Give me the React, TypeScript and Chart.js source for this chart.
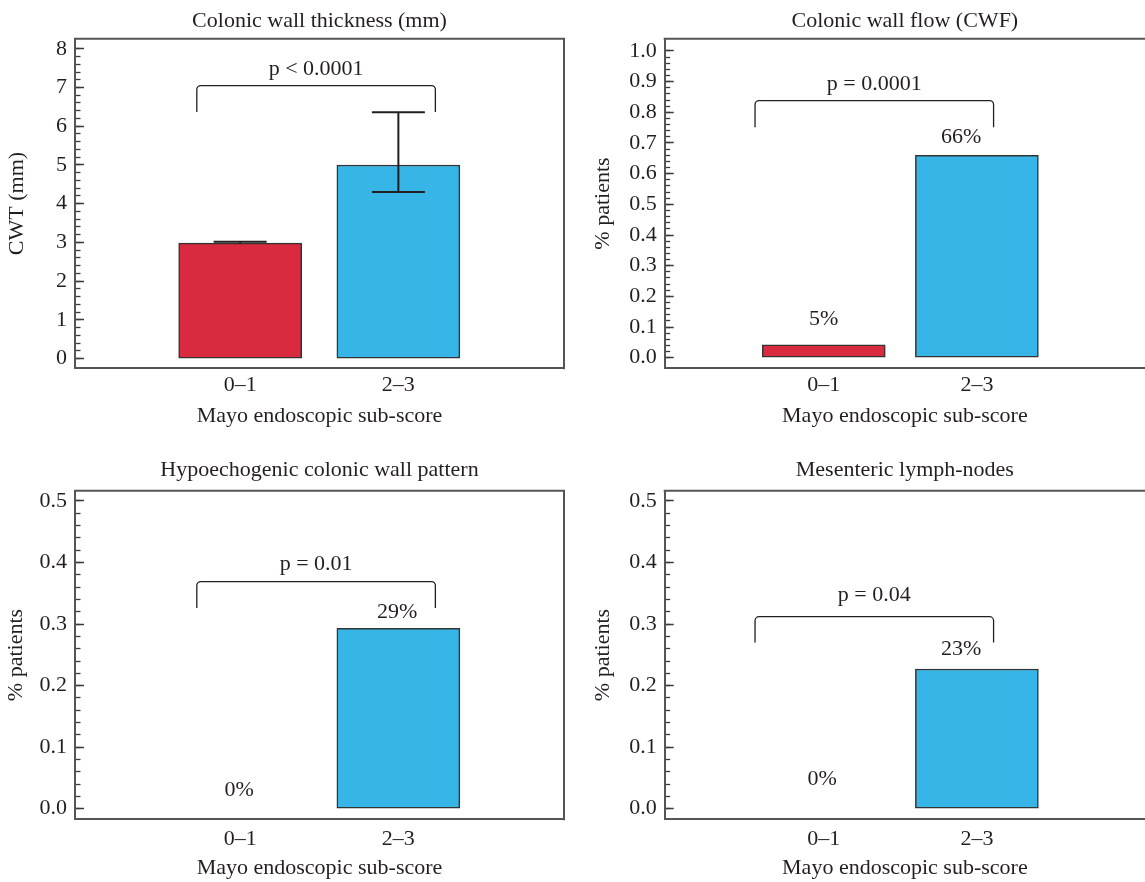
import React, { useEffect, useRef } from 'react';
import { Chart, registerables } from 'chart.js';

Chart.register(...registerables);

// ---------------- data ----------------
const categories = ['0\u20131', '2\u20133'];

const chartTitles = [
  'Colonic wall thickness (mm)',
  'Colonic wall flow (CWF)',
  'Hypoechogenic colonic wall pattern',
  'Mesenteric lymph-nodes',
];
const yAxisTitles = ['CWT (mm)', '% patients', '% patients', '% patients'];
const xAxisTitle = 'Mayo endoscopic sub-score';
const pValueTexts = ['p < 0.0001', 'p = 0.0001', 'p = 0.01', 'p = 0.04'];

// Colonic wall thickness (mean with error bars)
const cwtValues = [2.98, 5.0];
const cwtErrLow = [2.98, 4.3];
const cwtErrHigh = [3.02, 6.36];
const cwtTicks = [0, 1, 2, 3, 4, 5, 6, 7, 8];
const cwtTickLabels = ['0', '1', '2', '3', '4', '5', '6', '7', '8'];

// Colonic wall flow
const cwfValues = [0.042, 0.66];
const cwfValueLabels = ['5%', '66%'];
const cwfTicks = [0, 0.1, 0.2, 0.3, 0.4, 0.5, 0.6, 0.7, 0.8, 0.9, 1.0];
const cwfTickLabels = ['0.0', '0.1', '0.2', '0.3', '0.4', '0.5', '0.6', '0.7', '0.8', '0.9', '1.0'];

// Hypoechogenic pattern
const hypoValues = [0, 0.293];
const hypoValueLabels = ['0%', '29%'];

// Mesenteric lymph-nodes
const lymphValues = [0, 0.227];
const lymphValueLabels = ['0%', '23%'];

const halfTicks = [0, 0.1, 0.2, 0.3, 0.4, 0.5];
const halfTickLabels = ['0.0', '0.1', '0.2', '0.3', '0.4', '0.5'];

// ---------------- styles ----------------
const FONT = "'Liberation Serif', 'Times New Roman', serif";
const FS = 22;
const INK = '#231f20';
const FRAME = '#555555';
const TICK = '#3a3a3a';
const RED = '#da2a40';
const BLUE = '#38b5e7';
const BAR_BORDER = '#333333';

type LabelPos = { x: number; y: number };
type Panel = {
  id: string;
  left: number;
  top: number;
  width: number;
  height: number;
  title: string;
  yTitle: string;
  values: number[];
  errLow?: number[];
  errHigh?: number[];
  valueLabels?: string[];
  labelPos?: LabelPos[];
  ticks: number[];
  tickLabels: string[];
  minorStep: number;
  yMin: number;
  yMax: number;
  xMin: number;
  xMax: number;
  padRight: number;
  rightBorder: boolean;
  yAxisWidth: number;
  xAxisHeight: number;
  titlePad: { top: number; bottom: number };
  yTitlePad: number;
  xTickPad: number;
  xTitlePad: number;
  bracket: { x0: number; x1: number; yTop: number; yBottom: number };
  pGap: number;
  pText: string;
};

const panels: Panel[] = [
  {
    id: 'cwt', left: 0, top: 0, width: 572, height: 440,
    title: chartTitles[0], yTitle: yAxisTitles[0],
    values: cwtValues, errLow: cwtErrLow, errHigh: cwtErrHigh,
    ticks: cwtTicks, tickLabels: cwtTickLabels, minorStep: 0.2,
    yMin: -0.25, yMax: 8.26, xMin: -1.044, xMax: 2.047,
    padRight: 8, rightBorder: true, yAxisWidth: 75, xAxisHeight: 71.7,
    titlePad: { top: 8.5, bottom: 3.8 }, yTitlePad: 3.6, xTickPad: 3.5, xTitlePad: 10.1,
    bracket: { x0: -0.274, x1: 1.234, yTop: 7.05, yBottom: 6.37 }, pGap: 16.4, pText: pValueTexts[0],
  },
  {
    id: 'cwf', left: 580, top: 0, width: 565, height: 440,
    title: chartTitles[1], yTitle: yAxisTitles[1],
    values: cwfValues, valueLabels: cwfValueLabels,
    labelPos: [{ x: 0, y: 0.125 }, { x: 0.898, y: 0.72 }],
    ticks: cwfTicks, tickLabels: cwfTickLabels, minorStep: 0.02,
    yMin: -0.0346, yMax: 1.04, xMin: -1.039, xMax: 2.098,
    padRight: 0, rightBorder: false, yAxisWidth: 84.7, xAxisHeight: 71.7,
    titlePad: { top: 8.5, bottom: 3.8 }, yTitlePad: 10.2, xTickPad: 3.5, xTitlePad: 10.1,
    bracket: { x0: -0.449, x1: 1.109, yTop: 0.838, yBottom: 0.751 }, pGap: 16.7, pText: pValueTexts[1],
  },
  {
    id: 'hypo', left: 0, top: 440, width: 572, height: 442,
    title: chartTitles[2], yTitle: yAxisTitles[2],
    values: hypoValues, valueLabels: hypoValueLabels,
    labelPos: [{ x: -0.006, y: 0.0304 }, { x: 0.992, y: 0.3185 }],
    ticks: halfTicks, tickLabels: halfTickLabels, minorStep: 0.02,
    yMin: -0.0172, yMax: 0.5167, xMin: -1.044, xMax: 2.047,
    padRight: 8, rightBorder: true, yAxisWidth: 75, xAxisHeight: 62.7,
    titlePad: { top: 17.5, bottom: 6.8 }, yTitlePad: 2.8, xTickPad: 6.8, xTitlePad: 0.5,
    bracket: { x0: -0.274, x1: 1.234, yTop: 0.369, yBottom: 0.326 }, pGap: 17.4, pText: pValueTexts[2],
  },
  {
    id: 'lymph', left: 580, top: 440, width: 565, height: 442,
    title: chartTitles[3], yTitle: yAxisTitles[3],
    values: lymphValues, valueLabels: lymphValueLabels,
    labelPos: [{ x: -0.01, y: 0.0478 }, { x: 0.898, y: 0.2595 }],
    ticks: halfTicks, tickLabels: halfTickLabels, minorStep: 0.02,
    yMin: -0.0172, yMax: 0.5167, xMin: -1.039, xMax: 2.098,
    padRight: 0, rightBorder: false, yAxisWidth: 84.7, xAxisHeight: 62.7,
    titlePad: { top: 17.5, bottom: 6.8 }, yTitlePad: 10.2, xTickPad: 6.8, xTitlePad: 0.5,
    bracket: { x0: -0.449, x1: 1.109, yTop: 0.312, yBottom: 0.27 }, pGap: 21, pText: pValueTexts[3],
  },
];

function makeDecor(p: Panel) {
  return {
    id: 'decor_' + p.id,
    afterDatasetsDraw(chart: any) {
      const { ctx, chartArea: ca, scales } = chart;
      const xs = scales.x;
      const ys = scales.y;
      ctx.save();
      // frame: top and right
      ctx.strokeStyle = FRAME;
      ctx.lineWidth = 2;
      ctx.beginPath();
      ctx.moveTo(ca.left - 1, ca.top);
      ctx.lineTo(ca.right + 1, ca.top);
      if (p.rightBorder) {
        ctx.moveTo(ca.right, ca.top);
        ctx.lineTo(ca.right, ca.bottom + 1);
      }
      ctx.stroke();

      // error bars
      if (p.errLow && p.errHigh) {
        ctx.strokeStyle = INK;
        ctx.lineWidth = 2;
        const capHalf = 26.5;
        p.values.forEach((v, i) => {
          const x = xs.getPixelForValue(i);
          const yl = ys.getPixelForValue(p.errLow![i]);
          const yh = ys.getPixelForValue(p.errHigh![i]);
          ctx.beginPath();
          ctx.moveTo(x, yl);
          ctx.lineTo(x, yh);
          ctx.moveTo(x - capHalf, yh);
          ctx.lineTo(x + capHalf, yh);
          if (p.errLow![i] < v) {
            ctx.moveTo(x - capHalf, yl);
            ctx.lineTo(x + capHalf, yl);
          }
          ctx.stroke();
        });
      }

      // significance bracket
      const b = p.bracket;
      const bx0 = xs.getPixelForValue(b.x0);
      const bx1 = xs.getPixelForValue(b.x1);
      const byT = ys.getPixelForValue(b.yTop);
      const byB = ys.getPixelForValue(b.yBottom);
      const r = 4;
      ctx.strokeStyle = INK;
      ctx.lineWidth = 1.3;
      ctx.beginPath();
      ctx.moveTo(bx0, byB);
      ctx.lineTo(bx0, byT + r);
      ctx.arcTo(bx0, byT, bx0 + r, byT, r);
      ctx.lineTo(bx1 - r, byT);
      ctx.arcTo(bx1, byT, bx1, byT + r, r);
      ctx.lineTo(bx1, byB);
      ctx.stroke();

      ctx.fillStyle = INK;
      ctx.font = `${FS}px ${FONT}`;
      ctx.textAlign = 'center';
      ctx.textBaseline = 'middle';
      ctx.fillText(p.pText, (bx0 + bx1) / 2, byT - p.pGap);

      // value labels
      if (p.valueLabels && p.labelPos) {
        p.valueLabels.forEach((t, i) => {
          const pos = p.labelPos![i];
          ctx.fillText(t, xs.getPixelForValue(pos.x), ys.getPixelForValue(pos.y));
        });
      }
      ctx.restore();
    },
  };
}

function PanelChart({ p }: { p: Panel }) {
  const ref = useRef<HTMLCanvasElement | null>(null);
  useEffect(() => {
    if (!ref.current) return;
    const font = { family: FONT, size: FS, weight: 'normal' as const };
    const chart = new Chart(ref.current, {
      type: 'bar',
      data: {
        datasets: [
          {
            data: p.values.map((v, i) => ({ x: i, y: v })),
            backgroundColor: [RED, BLUE],
            borderColor: BAR_BORDER,
            borderWidth: 1.5,
            borderSkipped: false,
            barThickness: 123,
          } as any,
        ],
      },
      options: {
        responsive: false,
        animation: false,
        devicePixelRatio: 1,
        events: [],
        layout: { padding: { left: 0, right: p.padRight, top: 0, bottom: 0 } },
        plugins: {
          legend: { display: false },
          tooltip: { enabled: false },
          title: {
            display: true,
            text: p.title,
            fullSize: false,
            align: 'center',
            color: INK,
            font,
            padding: p.titlePad,
          },
        },
        scales: {
          x: {
            type: 'linear',
            offset: false,
            min: p.xMin,
            max: p.xMax,
            afterBuildTicks: (s: any) => {
              s.ticks = categories.map((_, i) => ({ value: i }));
            },
            afterFit: (s: any) => {
              s.height = p.xAxisHeight;
            },
            ticks: {
              callback: (_v: any, i: number) => categories[i],
              font,
              color: INK,
              padding: p.xTickPad,
              maxRotation: 0,
              autoSkip: false,
            },
            grid: { display: false, drawTicks: false, offset: false },
            border: { display: true, color: FRAME, width: 2 },
            title: {
              display: true,
              text: xAxisTitle,
              font,
              color: INK,
              padding: { top: 0, bottom: p.xTitlePad },
            },
          },
          y: {
            type: 'linear',
            position: 'left',
            weight: 1,
            min: p.yMin,
            max: p.yMax,
            afterBuildTicks: (s: any) => {
              s.ticks = p.ticks.map((v) => ({ value: v }));
            },
            afterFit: (s: any) => {
              s.width = p.yAxisWidth;
            },
            ticks: {
              callback: (_v: any, i: number) => p.tickLabels[i],
              font,
              color: INK,
              padding: 17,
            },
            grid: {
              drawOnChartArea: false,
              drawTicks: true,
              tickLength: -9,
              tickColor: TICK,
              tickWidth: 1.5,
            },
            border: { display: true, color: FRAME, width: 2 },
            title: {
              display: true,
              text: p.yTitle,
              font,
              color: INK,
              padding: { top: p.yTitlePad, bottom: 0 },
            },
          },
          yMinor: {
            type: 'linear',
            position: 'left',
            weight: 0,
            min: p.yMin,
            max: p.yMax,
            afterBuildTicks: (s: any) => {
              const top = p.ticks[p.ticks.length - 1];
              const n = Math.round(top / p.minorStep);
              const arr: { value: number }[] = [];
              for (let k = 0; k <= n; k++) arr.push({ value: +(k * p.minorStep).toFixed(4) });
              s.ticks = arr;
            },
            afterFit: (s: any) => {
              s.width = 0;
            },
            ticks: { display: false },
            grid: {
              drawOnChartArea: false,
              drawTicks: true,
              tickLength: -5.5,
              tickColor: TICK,
              tickWidth: 1.3,
            },
            border: { display: false },
          },
        } as any,
      },
      plugins: [makeDecor(p)],
    });
    return () => chart.destroy();
  }, [p]);
  return (
    <div style={{ position: 'absolute', left: p.left, top: p.top, width: p.width, height: p.height }}>
      <canvas ref={ref} width={p.width} height={p.height} style={{ display: 'block', width: p.width, height: p.height }} />
    </div>
  );
}

export default function App() {
  return (
    <div
      style={{
        position: 'absolute',
        left: 0,
        top: 0,
        width: 1145,
        height: 882,
        background: '#ffffff',
        overflow: 'hidden',
      }}
    >
      {panels.map((p) => (
        <PanelChart key={p.id} p={p} />
      ))}
    </div>
  );
}
